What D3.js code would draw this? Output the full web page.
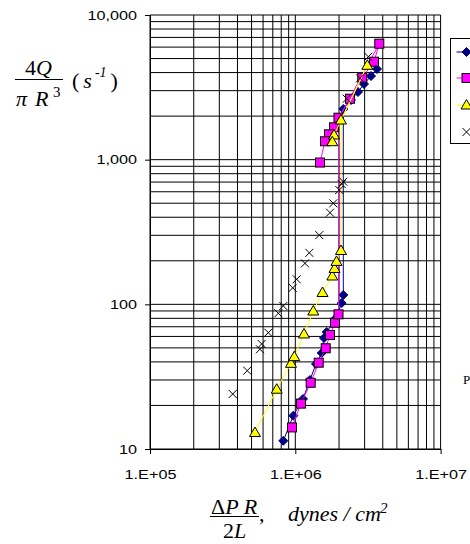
<!DOCTYPE html>
<html>
<head>
<meta charset="utf-8">
<script src="https://cdn.jsdelivr.net/npm/d3@7"></script>
<style>
  body { margin: 0; background: #fff; }
  svg { display: block; }
</style>
</head>
<body>
<svg id="chart" width="470" height="544"></svg>
<script>
// Flow curve data: wall shear stress (dynes/cm^2) vs apparent shear rate (1/s)
const diamondX = [8.27e5, 9.69e5, 1.13e6, 1.262e6, 1.388e6, 1.519e6, 1.576e6, 1.645e6, 1.906e6, 2.086e6, 2.14e6, 2.14e6, 2.417e6, 2.70e6, 2.97e6, 3.32e6, 3.65e6];
const diamondY = [11.4, 17.0, 22.2, 30.0, 38.7, 46.1, 58.5, 64.4, 80.4, 102, 116, 2240, 2584, 2936, 3334, 3787, 4233];

const squareX = [9.49e5, 1.094e6, 1.276e6, 1.449e6, 1.619e6, 1.733e6, 1.876e6, 1.983e6, 1.983e6, 2.38e6, 2.89e6, 3.48e6, 3.785e6, 1.847e6, 1.706e6, 1.601e6, 1.479e6];
const squareY = [14.1, 20.6, 28.7, 39.5, 49.7, 61.4, 74.6, 85.3, 1950, 2638, 3687, 4755, 6333, 1674, 1497, 1340, 955];

const triangleX = [5.28e5, 7.45e5, 9.34e5, 9.84e5, 1.148e6, 1.33e6, 1.539e6, 1.797e6, 1.862e6, 1.921e6, 2.063e6, 2.063e6, 3.13e6, 1.847e6, 1.797e6];
const triangleY = [13.0, 25.9, 39.1, 43.5, 62.4, 89.9, 120.7, 157, 177, 198, 235.6, 1880, 4490, 1481, 1331];

const crossX = [3.71e5, 4.67e5, 5.71e5, 5.87e5, 6.52e5, 7.64e5, 8.27e5, 9.60e5, 1.022e6, 1.166e6, 1.249e6, 1.463e6, 1.733e6, 1.826e6, 2.008e6, 2.086e6, 2.14e6, 2.258e6, 2.79e6, 3.18e6];
const crossY = [24.0, 34.8, 48.9, 53.2, 63.7, 86.7, 97.4, 130, 149, 192, 227, 301, 430, 499, 617, 679, 704, 2639, 3651, 5148];

const xTicks = [1e5, 1e6, 1e7];
const xTickLabels = ["1.E+05", "1.E+06", "1.E+07"];
const yTicks = [10, 100, 1000, 10000];
const yTickLabels = ["10", "100", "1,000", "10,000"];

const svg = d3.select("#chart");
const plotL = 150, plotR = 440.6, plotT = 15, plotB = 449;

const x = d3.scaleLog().domain([1e5, 1e7]).range([plotL, plotR]);
const y = d3.scaleLog().domain([10, 1e4]).range([plotB, plotT]);

svg.append("rect").attr("width", 470).attr("height", 544).attr("fill", "#fff");

// Gridlines at every 1..9 x 10^n
const gridX = [], gridY = [];
for (let e = 5; e < 7; e++) for (let k = 1; k <= 9; k++) gridX.push(k * Math.pow(10, e));
gridX.push(1e7);
for (let e = 1; e < 4; e++) for (let k = 1; k <= 9; k++) gridY.push(k * Math.pow(10, e));
gridY.push(1e4);

const grid = svg.append("g");
grid.selectAll("line.v").data(gridX).join("line").attr("class", "v")
  .attr("x1", d => x(d)).attr("x2", d => x(d))
  .attr("y1", plotT).attr("y2", plotB)
  .attr("stroke", "#000").attr("stroke-width", 1);
grid.selectAll("line.h").data(gridY).join("line").attr("class", "h")
  .attr("y1", d => y(d)).attr("y2", d => y(d))
  .attr("x1", plotL).attr("x2", plotR)
  .attr("stroke", "#000").attr("stroke-width", 1);

// Axes
const tickFont = "'Liberation Sans', Arial, sans-serif";
const sx = 1.2;

const yAxis = svg.append("g").attr("transform", `translate(${plotL},0)`)
  .call(d3.axisLeft(y).tickValues(yTicks).tickFormat((d, i) => yTickLabels[i]).tickSize(5).tickSizeOuter(0));
yAxis.select(".domain").attr("stroke", "#000");
yAxis.selectAll(".tick line").attr("stroke", "#000");
yAxis.selectAll(".tick text")
  .attr("font-family", tickFont).attr("font-size", 13.5).attr("fill", "#000")
  .attr("x", -13 / sx).attr("transform", `scale(${sx},1)`);

const xAxis = svg.append("g").attr("transform", `translate(0,${plotB})`)
  .call(d3.axisBottom(x).tickValues(xTicks).tickFormat((d, i) => xTickLabels[i]).tickSize(5).tickSizeOuter(0));
xAxis.select(".domain").attr("stroke", "#000");
xAxis.selectAll(".tick line").attr("stroke", "#000");
xAxis.selectAll(".tick text")
  .attr("font-family", tickFont).attr("font-size", 13.5).attr("fill", "#000")
  .attr("y", 20).attr("transform", `scale(${sx},1)`);

// Marker shapes
const markers = {
  diamond: g => g.append("path").attr("d", "M0,-4.5L4.5,0L0,4.5L-4.5,0Z").attr("fill", "#000080").attr("stroke", "#000080"),
  square: g => g.append("rect").attr("x", -4.5).attr("y", -4.5).attr("width", 9).attr("height", 9)
    .attr("fill", "#FF00FF").attr("stroke", "#000").attr("stroke-width", 1),
  triangle: g => g.append("path").attr("d", "M0,-5.5L5.5,4L-5.5,4Z").attr("fill", "#FFFF00").attr("stroke", "#000").attr("stroke-width", 1),
  cross: g => g.append("path").attr("d", "M-4,-4L4,4M-4,4L4,-4").attr("fill", "none").attr("stroke", "#000").attr("stroke-width", 1)
};

const line = d3.line().x(d => x(d[0])).y(d => y(d[1]));

function drawSeries(xs, ys, color, marker) {
  const pts = xs.map((v, i) => [v, ys[i]]);
  const g = svg.append("g");
  if (color) {
    g.append("path").datum(pts).attr("d", line)
      .attr("fill", "none").attr("stroke", color).attr("stroke-width", 1);
  }
  g.selectAll("g.pt").data(pts).join("g").attr("class", "pt")
    .attr("transform", d => `translate(${x(d[0])},${y(d[1])})`)
    .each(function () { markers[marker](d3.select(this)); });
}

drawSeries(diamondX, diamondY, "#000080", "diamond");
drawSeries(squareX, squareY, "#FF00FF", "square");
drawSeries(triangleX, triangleY, "#FFFF00", "triangle");
drawSeries(crossX, crossY, null, "cross");

// Legend (runs off the right edge)
const legend = svg.append("g");
legend.append("rect").attr("x", 450.5).attr("y", 38.5).attr("width", 40).attr("height", 105)
  .attr("fill", "#fff").attr("stroke", "#000");
const legendItems = [
  { color: "#000080", marker: "diamond", cy: 52 },
  { color: "#FF00FF", marker: "square", cy: 78 },
  { color: "#FFFF00", marker: "triangle", cy: 105 },
  { color: null, marker: "cross", cy: 132 }
];
legendItems.forEach(it => {
  if (it.color) legend.append("line").attr("x1", 456.5).attr("x2", 480).attr("y1", it.cy).attr("y2", it.cy)
    .attr("stroke", it.color);
  markers[it.marker](legend.append("g").attr("transform", `translate(466.5,${it.cy})`));
});

// Axis titles
const serif = "'Liberation Serif', 'Times New Roman', serif";
const yt = svg.append("g").attr("font-family", serif).attr("fill", "#000");
const num = yt.append("text").attr("x", 25).attr("y", 75).attr("font-size", 22);
num.append("tspan").text("4");
num.append("tspan").attr("font-style", "italic").text("Q");
yt.append("line").attr("x1", 15).attr("x2", 63).attr("y1", 79.5).attr("y2", 79.5).attr("stroke", "#000");
const den = yt.append("text").attr("x", 16).attr("y", 106).attr("font-size", 22).attr("font-style", "italic");
den.append("tspan").text("π");
den.append("tspan").attr("x", 35).text("R");
yt.append("text").attr("x", 53).attr("y", 97).attr("font-size", 15).text("3");
const unit = yt.append("text").attr("x", 72).attr("y", 88).attr("font-size", 22);
unit.append("tspan").text("(");
unit.append("tspan").attr("dx", 4).attr("font-style", "italic").text("s");
unit.append("tspan").attr("dx", 3).attr("dy", -11).attr("font-size", 14).attr("font-style", "italic").text("-1");
unit.append("tspan").attr("dx", 4).attr("dy", 11).text(")");

const xt = svg.append("g").attr("font-family", serif).attr("fill", "#000");
const xnum = xt.append("text").attr("x", 211).attr("y", 514).attr("font-size", 22);
xnum.append("tspan").text("Δ");
xnum.append("tspan").attr("font-style", "italic").text("P R");
xt.append("line").attr("x1", 210).attr("x2", 259).attr("y1", 516.5).attr("y2", 516.5).attr("stroke", "#000");
const xden = xt.append("text").attr("x", 223).attr("y", 538).attr("font-size", 22);
xden.append("tspan").text("2");
xden.append("tspan").attr("font-style", "italic").text("L");
xt.append("text").attr("x", 259).attr("y", 521).attr("font-size", 22).text(",");
xt.append("text").attr("x", 288).attr("y", 521).attr("font-size", 22).attr("font-style", "italic").text("dynes / cm");
xt.append("text").attr("x", 380).attr("y", 513).attr("font-size", 15).attr("font-style", "italic").text("2");

// Side annotation, cut by the edge
svg.append("text").attr("x", 463).attr("y", 384).attr("font-family", serif).attr("font-size", 13).text("P");
</script>
</body>
</html>
